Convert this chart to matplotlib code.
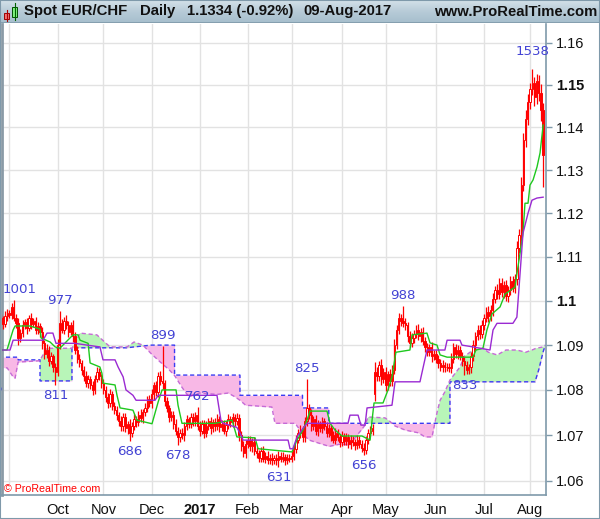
import numpy as np
import pandas as pd
import matplotlib
matplotlib.use("Agg")
import matplotlib.pyplot as plt
from matplotlib.patches import Rectangle
from matplotlib.colors import LinearSegmentedColormap
from matplotlib.ticker import NullLocator

plt.rcParams['font.family'] = ['Liberation Sans', 'DejaVu Sans']

# ---------------- data ----------------
dates = pd.bdate_range("2016-08-25", "2017-08-09")

closes = [
    1.0955, 1.0960, 1.0948, 1.0965, 1.0972, 1.0968, 1.0985, 1.0962, 1.0950, 1.0915,
    1.0928, 1.0945, 1.0952, 1.0938, 1.0960, 1.0948, 1.0955, 1.0935, 1.0942, 1.0930,
    1.0905, 1.0880, 1.0890, 1.0865, 1.0875, 1.0850, 1.0840, 1.0900, 1.0950, 1.0935,
    1.0955, 1.0945, 1.0930, 1.0945, 1.0920, 1.0890, 1.0870, 1.0860, 1.0845, 1.0830,
    1.0815, 1.0825, 1.0810, 1.0800, 1.0825, 1.0840, 1.0830, 1.0815, 1.0800, 1.0785,
    1.0770, 1.0790, 1.0765, 1.0755, 1.0745, 1.0730, 1.0720, 1.0740, 1.0715, 1.0725,
    1.0705, 1.0720, 1.0735, 1.0728, 1.0745, 1.0738, 1.0750, 1.0760, 1.0780, 1.0770,
    1.0790, 1.0810, 1.0795, 1.0830, 1.0820, 1.0815, 1.0775, 1.0760, 1.0740, 1.0745,
    1.0725, 1.0710, 1.0695, 1.0705, 1.0700, 1.0720, 1.0735, 1.0725, 1.0740, 1.0730,
    1.0745, 1.0720, 1.0710, 1.0725, 1.0705, 1.0720, 1.0730, 1.0715, 1.0728, 1.0720,
    1.0735, 1.0718, 1.0725, 1.0710, 1.0722, 1.0735, 1.0728, 1.0740, 1.0730, 1.0738,
    1.0700, 1.0675, 1.0660, 1.0680, 1.0690, 1.0675, 1.0685, 1.0665, 1.0660, 1.0650,
    1.0665, 1.0648, 1.0655, 1.0645, 1.0650, 1.0645, 1.0650, 1.0645, 1.0655, 1.0648,
    1.0652, 1.0645, 1.0650, 1.0648, 1.0655, 1.0670, 1.0690, 1.0705, 1.0710, 1.0695,
    1.0730, 1.0760, 1.0745, 1.0720, 1.0735, 1.0710, 1.0725, 1.0715, 1.0730, 1.0720,
    1.0705, 1.0715, 1.0700, 1.0690, 1.0705, 1.0695, 1.0685, 1.0698, 1.0688, 1.0695,
    1.0680, 1.0690, 1.0685, 1.0678, 1.0690, 1.0680, 1.0672, 1.0668, 1.0690, 1.0705,
    1.0710, 1.0715, 1.0840, 1.0830, 1.0855, 1.0825, 1.0840, 1.0810, 1.0835, 1.0820,
    1.0845, 1.0900, 1.0935, 1.0960, 1.0955, 1.0950, 1.0945, 1.0920, 1.0905, 1.0915,
    1.0925, 1.0935, 1.0920, 1.0930, 1.0910, 1.0895, 1.0885, 1.0895, 1.0875, 1.0880,
    1.0870, 1.0860, 1.0850, 1.0855, 1.0850, 1.0850, 1.0848, 1.0870, 1.0895, 1.0880,
    1.0890, 1.0875, 1.0865, 1.0855, 1.0845, 1.0850, 1.0875, 1.0900, 1.0920, 1.0935,
    1.0925, 1.0945, 1.0960, 1.0975, 1.0965, 1.0980, 1.1005, 1.1025, 1.1015, 1.1040,
    1.1020, 1.1035, 1.1010, 1.1025, 1.1045, 1.1030, 1.1050, 1.1120, 1.1150, 1.1265,
    1.1370, 1.1420, 1.1460, 1.1490, 1.1505, 1.1470, 1.1510, 1.1480, 1.1440, 1.1334,
]
first_open = 1.0950
gap_opens = {172: 1.0790}

# wick lengths in pips (0.0001)
up_wick = [
    8, 10, 6, 12, 9, 7, 10, 16, 8, 12,
    9, 11, 7, 10, 8, 12, 6, 9, 11, 8,
    10, 7, 12, 8, 9, 6, 10, 14, 27, 9,
    8, 12, 10, 7, 11, 9, 8, 10, 6, 9,
    12, 8, 7, 10, 9, 11, 8, 6, 10, 9,
    8, 11, 7, 9, 10, 6, 12, 8, 9, 7,
    10, 8, 11, 7, 9, 12, 8, 10, 7, 9,
    11, 8, 10, 9, 12, 79, 8, 10, 7, 9,
    8, 10, 7, 9, 11, 8, 10, 6, 9, 8,
    7, 17, 10, 8, 9, 12, 7, 10, 8, 9,
    11, 7, 9, 8, 10, 12, 8, 9, 7, 10,
    9, 8, 11, 10, 7, 9, 8, 10, 9, 7,
    8, 10, 7, 9, 8, 10, 7, 8, 9, 8,
    10, 7, 9, 8, 11, 9, 10, 8, 12, 9,
    10, 65, 9, 12, 8, 10, 9, 7, 11, 8,
    9, 10, 7, 8, 11, 9, 8, 10, 7, 9,
    8, 10, 9, 7, 11, 8, 9, 10, 8, 9,
    11, 9, 22, 12, 10, 14, 9, 11, 8, 12,
    10, 13, 11, 12, 9, 33, 10, 8, 11, 12,
    9, 10, 12, 8, 11, 9, 10, 8, 12, 9,
    10, 8, 9, 11, 7, 10, 9, 12, 10, 8,
    11, 9, 10, 8, 9, 7, 10, 12, 9, 11,
    10, 12, 9, 11, 13, 10, 12, 9, 14, 11,
    12, 10, 13, 9, 11, 12, 10, 15, 14, 18,
    16, 20, 18, 15, 33, 14, 16, 12, 22, 18,
]
dn_wick = [
    9, 7, 11, 8, 10, 8, 9, 7, 12, 15,
    8, 10, 9, 12, 7, 11, 8, 10, 9, 12,
    14, 10, 9, 12, 8, 11, 29, 10, 9, 8,
    10, 9, 11, 8, 12, 10, 9, 8, 11, 10,
    9, 11, 8, 12, 10, 8, 9, 11, 10, 12,
    11, 9, 10, 8, 12, 9, 11, 10, 8, 12,
    19, 10, 8, 11, 9, 10, 12, 8, 10, 9,
    10, 12, 9, 11, 8, 14, 10, 9, 12, 10,
    11, 9, 17, 10, 9, 12, 8, 10, 9, 11,
    10, 9, 12, 8, 11, 10, 9, 12, 8, 10,
    9, 11, 10, 8, 12, 9, 10, 11, 9, 8,
    12, 10, 9, 11, 8, 10, 12, 9, 10, 8,
    9, 8, 10, 9, 8, 10, 9, 11, 14, 8,
    8, 10, 9, 8, 7, 9, 10, 8, 12, 10,
    11, 9, 10, 12, 8, 10, 11, 9, 10, 8,
    10, 9, 12, 8, 10, 9, 11, 8, 10, 9,
    9, 11, 8, 10, 9, 8, 10, 12, 9, 10,
    8, 9, 15, 11, 10, 14, 9, 12, 10, 11,
    12, 10, 9, 11, 13, 10, 12, 14, 10, 9,
    11, 10, 9, 12, 10, 11, 9, 10, 12, 9,
    10, 12, 9, 11, 10, 9, 9, 10, 11, 9,
    10, 9, 11, 22, 10, 9, 12, 10, 11, 9,
    12, 10, 11, 9, 12, 10, 14, 11, 10, 12,
    11, 13, 10, 12, 11, 10, 12, 14, 12, 15,
    14, 16, 15, 18, 14, 20, 16, 18, 25, 74,
]

# Ichimoku lines (bar index, price)
tenkan_i = [0.7, 3.9, 6.7, 7.6, 14.4, 19, 19.5, 23.6, 25.9, 28.1, 34.1, 36.4, 37.3, 41, 41.9,
            46.4, 47.3, 47.8, 53.3, 54.2, 55.6, 61.5, 63.3, 70.2, 71.6, 73, 74.8, 81.2, 82.1,
            83.9, 99, 106.8, 109, 117.3, 118.7, 134.2, 136.5, 139.2, 141.1, 142.4, 150.2,
            151.6, 153.9, 157.1, 166.2, 169.9, 170.8, 171.7, 175.8, 178.1, 179.9, 181.7,
            188.1, 189.1, 195.9, 197.3, 200.5, 201.9, 205.1, 216.9, 218.3, 221.5, 223.3,
            225.6, 229.3, 231.6, 236.1, 237.5, 239.8, 240.7, 242.1, 243, 244.4, 246.2,
            247.6, 249]
tenkan_v = [1.0889, 1.0889, 1.0934, 1.0943, 1.0943, 1.0936, 1.0916, 1.0907, 1.0896, 1.0893,
            1.0923, 1.0923, 1.0911, 1.0904, 1.0860, 1.0851, 1.0837, 1.0815, 1.0811, 1.0788,
            1.0760, 1.0755, 1.0733, 1.0725, 1.0749, 1.0773, 1.0800, 1.0800, 1.0766, 1.0726,
            1.0726, 1.0733, 1.0696, 1.0694, 1.0670, 1.0663, 1.0689, 1.0711, 1.0733, 1.0753,
            1.0753, 1.0726, 1.0711, 1.0698, 1.0698, 1.0689, 1.0733, 1.0771, 1.0771, 1.0800,
            1.0829, 1.0884, 1.0889, 1.0923, 1.0927, 1.0905, 1.0900, 1.0878, 1.0873, 1.0873,
            1.0889, 1.0893, 1.0934, 1.0970, 1.0986, 1.1015, 1.1031, 1.1077, 1.1154, 1.1223,
            1.1223, 1.1265, 1.1277, 1.1307, 1.1340, 1.1405]

kijun_i = [0.7, 5.3, 6.7, 20.4, 22.2, 24.9, 26.3, 35, 40.5, 46.4, 47.8, 53.3, 54.7, 57, 58.3,
           61.5, 62.9, 71.6, 73, 99.9, 101.7, 102.7, 109, 111.3, 111.8, 132.4, 133.3, 134.6,
           136.5, 139.2, 141.1, 159.8, 160.7, 164.4, 165.7, 167.6, 168.5, 179.9, 181.3, 192.7,
           195.9, 204.1, 205.1, 211, 211.9, 216.9, 224.7, 226.1, 227.9, 235.2, 237, 239.8,
           242.1, 243.9, 246.2, 249]
kijun_v = [1.0889, 1.0889, 1.0911, 1.0911, 1.0927, 1.0927, 1.0904, 1.0904, 1.0900, 1.0896,
           1.0867, 1.0867, 1.0851, 1.0829, 1.0800, 1.0788, 1.0777, 1.0777, 1.0788, 1.0788,
           1.0733, 1.0726, 1.0717, 1.0696, 1.0689, 1.0689, 1.0670, 1.0670, 1.0696, 1.0715,
           1.0726, 1.0726, 1.0744, 1.0744, 1.0722, 1.0722, 1.0760, 1.0766, 1.0818, 1.0818,
           1.0889, 1.0889, 1.0911, 1.0911, 1.0900, 1.0896, 1.0889, 1.0934, 1.0949, 1.0949,
           1.0963, 1.1154, 1.1200, 1.1230, 1.1235, 1.1237]

cloud_i = [0, 4, 6.7, 7.6, 8.9, 9, 19, 19.01, 22, 33.6, 33.61, 37.3, 45, 51, 58.8, 62, 66, 70,
           74, 78, 80.5, 80.51, 84, 87, 92, 100, 105, 108, 110.4, 110.41, 113, 125, 126.4,
           135.6, 137.9, 139, 139.01, 142, 150, 151, 151.01, 156, 160.7, 164, 167.6, 169,
           176.7, 179, 181.3, 186, 192, 195, 198.2, 200.5, 201.9, 204, 206.4, 206.41, 211,
           213, 217, 221.5, 224, 228, 232, 237, 241, 244.4, 245.3, 247, 249, 250]
span_a = [1.0851, 1.0849, 1.0829, 1.0826, 1.0860, 1.0862, 1.0865, 1.0866, 1.0893, 1.0893,
          1.0893, 1.0927, 1.0923, 1.0896, 1.0896, 1.0907, 1.0900, 1.0880, 1.0862, 1.0845,
          1.0832, 1.0832, 1.0805, 1.0785, 1.0793, 1.0790, 1.0793, 1.0785, 1.0777, 1.0777,
          1.0766, 1.0762, 1.0726, 1.0726, 1.0711, 1.0703, 1.0703, 1.0689, 1.0677, 1.0675,
          1.0675, 1.0680, 1.0678, 1.0700, 1.0722, 1.0740, 1.0738, 1.0730, 1.0720, 1.0711,
          1.0705, 1.0696, 1.0696, 1.0750, 1.0777, 1.0795, 1.0822, 1.0822, 1.0851, 1.0875,
          1.0889, 1.0893, 1.0884, 1.0878, 1.0889, 1.0889, 1.0884, 1.0890, 1.0892, 1.0894,
          1.0896, 1.0900]
span_b = [1.0873, 1.0873, 1.0873, 1.0873, 1.0873, 1.0867, 1.0867, 1.0820, 1.0820, 1.0820,
          1.0894, 1.0894, 1.0894, 1.0894, 1.0894, 1.0896, 1.0898, 1.0900, 1.0900, 1.0900,
          1.0900, 1.0833, 1.0833, 1.0833, 1.0833, 1.0833, 1.0833, 1.0833, 1.0833, 1.0788,
          1.0788, 1.0788, 1.0788, 1.0788, 1.0788, 1.0788, 1.0760, 1.0760, 1.0760, 1.0760,
          1.0726, 1.0726, 1.0726, 1.0726, 1.0726, 1.0726, 1.0726, 1.0726, 1.0726, 1.0726,
          1.0726, 1.0726, 1.0726, 1.0726, 1.0726, 1.0726, 1.0726, 1.0818, 1.0818, 1.0818,
          1.0818, 1.0818, 1.0818, 1.0818, 1.0818, 1.0818, 1.0818, 1.0818, 1.0818, 1.0845,
          1.0885, 1.0900]

# extreme labels (label position in bars, extreme price, above?)
label_idx = [-4, 9.5, 28, 26, 75, 60, 91, 82, 141, 128, 167, 185, 213, 244]
label_price = [1.0826, 1.1001, 1.0977, 1.0811, 1.0899, 1.0686, 1.0762, 1.0678, 1.0825,
               1.0631, 1.0656, 1.0988, 1.0833, 1.1538]
label_above = [False, True, True, False, True, False, True, False, True, False, False,
               True, False, True]

y_ticks = [1.06, 1.07, 1.08, 1.09, 1.10, 1.11, 1.12, 1.13, 1.14, 1.15, 1.16]
y_tick_labels = ['1.06', '1.07', '1.08', '1.09', '1.1', '1.11', '1.12', '1.13', '1.14',
                 '1.15', '1.16']
bold_ticks = ['1.1', '1.15']
month_labels = ['', 'Oct', 'Nov', 'Dec', '2017', 'Feb', 'Mar', 'Apr', 'May', 'Jun', 'Jul', 'Aug']

title_parts = ['Spot EUR/CHF', 'Daily', '1.1334 (-0.92%)', '09-Aug-2017']

# ---------------- derived ----------------
n = len(closes)
c = np.array(closes)
o = np.array([first_open] + closes[:-1])
for k, v in gap_opens.items():
    o[k] = v
hi = np.maximum(o, c) + np.array(up_wick) * 1e-4
lo = np.minimum(o, c) - np.array(dn_wick) * 1e-4
idx = np.arange(n)

# ---------------- figure ----------------
W, H = 600, 519
fig = plt.figure(figsize=(W / 100, H / 100), dpi=100)
fig.patch.set_facecolor('white')

PL, PR, PT, PB = 2, 546, 24, 495
ax = fig.add_axes([PL / W, (H - PB) / H, (PR - PL) / W, (PB - PT) / H])
ax.set_facecolor('white')
ax.set_yscale('log')
ax.set_xlim((PL + 1.56) / 2.1875, (PR + 1.56) / 2.1875)
ax.set_ylim(1.05689, 1.16447)

# grid
month_pos = [i for i in range(1, n) if dates[i].month != dates[i - 1].month]
for mp in month_pos:
    ax.axvline(mp, color='#e2e2e2', lw=1, zorder=0)
for yt in y_ticks:
    ax.axhline(yt, color='#e2e2e2', lw=1, zorder=0)

# cloud: pink everywhere between spans, green on top where span A is above span B
ci = np.array(cloud_i)
sa = np.array(span_a)
sb = np.array(span_b)
ax.fill_between(ci, sa, sb, color='#f8b8e6', lw=0, zorder=1)
ax.fill_between(ci, sa, sb, where=sa >= sb, interpolate=True, color='#b8f5b8', lw=0,
                zorder=1.1)
ax.plot(ci, sb, color='#3b3bf2', lw=1.0, ls=(0, (3, 2)), zorder=2)
ax.plot(ci, sa, color='#c66ad6', lw=1.0, ls=(0, (3, 2)), zorder=2)

# candles
ax.vlines(idx, lo, hi, color='#ff0000', lw=0.9, zorder=3)
up = c >= o
body_lo = np.minimum(o, c)
body_h = np.maximum(np.abs(c - o), 0.00005)
ax.bar(idx[up], body_h[up], bottom=body_lo[up], width=0.62, facecolor='white',
       edgecolor='#ff0000', lw=0.7, zorder=4)
ax.bar(idx[~up], body_h[~up], bottom=body_lo[~up], width=0.62, facecolor='#ff0000',
       edgecolor='#ff0000', lw=0.7, zorder=4)

# tenkan / kijun
ax.plot(tenkan_i, tenkan_v, color='#1ec81e', lw=1.0, zorder=5)
ax.plot(kijun_i, kijun_v, color='#9a2ad2', lw=1.0, zorder=5)

# labels
for li, lp, la in zip(label_idx, label_price, label_above):
    txt = str(int(round(lp * 10000)) - 10000)
    off = 4 if la else -4
    if lp > 1.15:
        off = 11
    t = ax.annotate(txt, (li, lp), xytext=(0, off), textcoords='offset pixels',
                    ha='center', va='bottom' if la else 'top', color='#4343d4',
                    fontsize=9.6, family='DejaVu Sans', zorder=6, annotation_clip=False)
    t.set_clip_on(True)

# copyright
ax.text(2 / (PR - PL), (PB - 489) / (PB - PT), '© ProRealTime.com', transform=ax.transAxes,
        ha='left', va='center', color='#ff0000', fontsize=7.7,
        bbox=dict(facecolor='white', edgecolor='none', pad=0.3), zorder=7)

# axes styling
frame_col = '#7f99aa'
ax.spines['top'].set_visible(False)
ax.spines['left'].set_color('#8a9aa6')
ax.spines['left'].set_linewidth(2)
ax.spines['right'].set_color(frame_col)
ax.spines['bottom'].set_color(frame_col)
ax.spines['right'].set_linewidth(1.2)
ax.spines['bottom'].set_linewidth(1.2)

ax.yaxis.tick_right()
ax.yaxis.set_minor_locator(NullLocator())
ax.set_yticks(y_ticks)
ax.set_yticklabels(y_tick_labels)
ax.tick_params(axis='y', which='both', direction='out', length=4, width=1, color=frame_col,
               pad=3, labelsize=10.5, labelcolor='#111111', left=False)
for lbl in ax.get_yticklabels():
    if lbl.get_text() in bold_ticks:
        lbl.set_fontweight('bold')

ax.set_xticks(month_pos)
ax.set_xticklabels(month_labels)
ax.tick_params(axis='x', length=0, pad=6, labelsize=10.5, labelcolor='#111111')
for lbl in ax.get_xticklabels():
    if lbl.get_text() == '2017':
        lbl.set_fontweight('bold')

# header
hax = fig.add_axes([0, (H - 23) / H, 1, 23 / H])
grad = np.linspace(0, 1, 60).reshape(-1, 1)
cmap = LinearSegmentedColormap.from_list('hdr', ['#d4e1e9', '#b7cbd7', '#a6becc'])
hax.imshow(grad, aspect='auto', cmap=cmap, extent=[0, W, 23, 0])
hax.set_xlim(0, W)
hax.set_ylim(23, 0)
hax.axis('off')
hax.axhline(22.6, color=frame_col, lw=1.2)
# icon candles
hax.plot([6.5, 6.5], [10, 21], color='#b00000', lw=0.8)
hax.add_patch(Rectangle((4, 12.5), 5, 6, facecolor='#f07070', edgecolor='#a00000', lw=0.7))
hax.plot([14.5, 14.5], [3, 20], color='#006000', lw=0.8)
hax.add_patch(Rectangle((12, 6.5), 5, 10.5, facecolor='#7ef07e', edgecolor='#005000', lw=0.7))
xs = [24, 140, 187, 303]
for xp, tp in zip(xs, title_parts):
    hax.text(xp, 11.5, tp, ha='left', va='center', fontsize=10.7, fontweight='bold',
             color='#111111')
hax.text(597, 11.5, 'www.ProRealTime.com', ha='right', va='center', fontsize=10.7,
         fontweight='bold', color='#111111')

# outer frame
fig.add_artist(Rectangle((0, 0), 1, 1, transform=fig.transFigure, fill=False,
                         edgecolor=frame_col, lw=1.5))

fig.savefig('out.png', dpi=100)
